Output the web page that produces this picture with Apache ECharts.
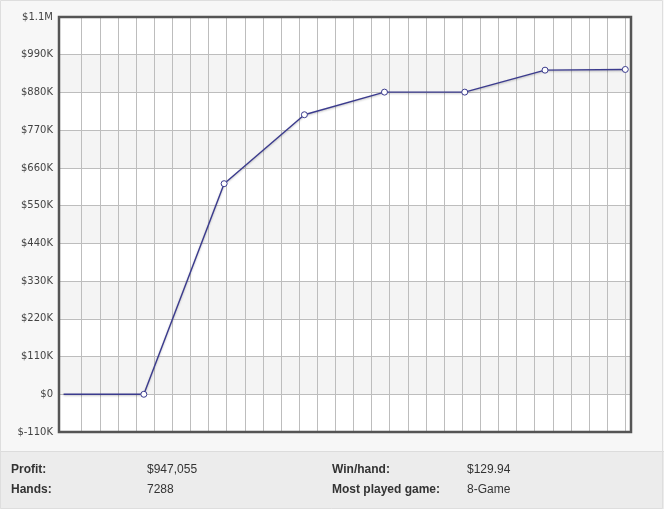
<!DOCTYPE html>
<html>
<head>
<meta charset="utf-8">
<script src="https://cdn.jsdelivr.net/npm/echarts@6/dist/echarts.min.js"></script>
<style>
  html, body { margin: 0; padding: 0; background: #f7f7f7; }
  #chart { width: 664px; height: 509px; }
</style>
</head>
<body>
<div id="chart"></div>
<script>
// Data: cumulative profit at month ends, x measured in weeks from start
var weekPositions = [0, 4.43, 8.86, 13.29, 17.71, 22.14, 26.57, 31];
var profitValues = [0, 0, 614000, 815000, 881000, 881000, 945000, 947055];
var yTickMin = -110000, yTickMax = 1100000, yTickStep = 110000;
var statLabelsLeft = ['Profit:', 'Hands:'];
var statValuesLeft = ['$947,055', '7288'];
var statLabelsRight = ['Win/hand:', 'Most played game:'];
var statValuesRight = ['$129.94', '8-Game'];

var lineColor = '#3b3b8e';

var seriesData = weekPositions.map(function (w, i) {
  var item = { value: [w, profitValues[i]] };
  if (i === 0) item.symbol = 'none';
  return item;
});

function fmt(v) {
  if (v === 0) return '$0';
  if (Math.abs(v) >= 1000000) return '$' + (v / 1000000) + 'M';
  return '$' + Math.round(v / 1000) + 'K';
}

var statFont = '"Liberation Sans", Arial, Helvetica, sans-serif';
var graphics = [
  { type: 'rect', z: -10, silent: true, shape: { x: 0, y: 451, width: 664, height: 58 }, style: { fill: '#ececec' } },
  { type: 'line', z: -9, silent: true, shape: { x1: 0, y1: 451.5, x2: 664, y2: 451.5 }, style: { stroke: '#dcdcdc', lineWidth: 1 } },
  { type: 'rect', z: 200, silent: true, shape: { x: 0.5, y: 0.5, width: 662, height: 508 }, style: { fill: 'none', stroke: '#dedede', lineWidth: 1 } },
  { type: 'rect', z: 100, silent: true, shape: { x: 59, y: 17, width: 572, height: 415 }, style: { fill: 'none', stroke: '#555555', lineWidth: 2.5 } }
];
var rowsY = [470, 490];
statLabelsLeft.forEach(function (t, i) {
  graphics.push({ type: 'text', z: 50, x: 11, y: rowsY[i], style: { text: t, font: 'bold 12px ' + statFont, fill: '#333', textVerticalAlign: 'middle', verticalAlign: 'middle' } });
  graphics.push({ type: 'text', z: 50, x: 147, y: rowsY[i], style: { text: statValuesLeft[i], font: '12px ' + statFont, fill: '#333', textVerticalAlign: 'middle', verticalAlign: 'middle' } });
});
statLabelsRight.forEach(function (t, i) {
  graphics.push({ type: 'text', z: 50, x: 332, y: rowsY[i], style: { text: t, font: 'bold 12px ' + statFont, fill: '#333', textVerticalAlign: 'middle', verticalAlign: 'middle' } });
  graphics.push({ type: 'text', z: 50, x: 467, y: rowsY[i], style: { text: statValuesRight[i], font: '12px ' + statFont, fill: '#333', textVerticalAlign: 'middle', verticalAlign: 'middle' } });
});

var chart = echarts.init(document.getElementById('chart'), null, { renderer: 'canvas' });
chart.setOption({
  backgroundColor: '#f7f7f7',
  animation: false,
  graphic: graphics,
  grid: [
    { left: 59, top: 17, width: 572, height: 415, show: false },
    { left: 81.7, top: 17, width: 543.6, height: 415, show: false }
  ],
  xAxis: [
    { type: 'value', gridIndex: 0, min: -0.253, max: 31.315, show: false, splitLine: { show: false } },
    { type: 'value', gridIndex: 1, min: 1, max: 31, interval: 1,
      axisLine: { show: false }, axisTick: { show: false }, axisLabel: { show: false },
      splitLine: { show: true, lineStyle: { color: '#bdbdbd', width: 1 } } }
  ],
  yAxis: [
    { type: 'value', gridIndex: 0, min: yTickMin, max: yTickMax, interval: yTickStep,
      axisLine: { show: false }, axisTick: { show: false },
      axisLabel: { formatter: fmt, color: '#444', fontSize: 10, fontFamily: '"DejaVu Sans", Verdana, sans-serif', margin: 6 },
      splitLine: { show: true, lineStyle: { color: '#bdbdbd', width: 1 } },
      splitArea: { show: true, areaStyle: { color: ['#ffffff', '#f4f4f4'] } } },
    { type: 'value', gridIndex: 1, min: yTickMin, max: yTickMax, show: false, splitLine: { show: false } }
  ],
  series: [{
    type: 'line',
    xAxisIndex: 0,
    yAxisIndex: 0,
    data: seriesData,
    symbol: 'circle',
    symbolSize: 6,
    z: 20,
    lineStyle: { color: lineColor, width: 1.4, shadowColor: 'rgba(0,0,0,0.25)', shadowBlur: 2, shadowOffsetY: 1 },
    itemStyle: { color: '#ffffff', borderColor: lineColor, borderWidth: 1 }
  }]
});
</script>
</body>
</html>
